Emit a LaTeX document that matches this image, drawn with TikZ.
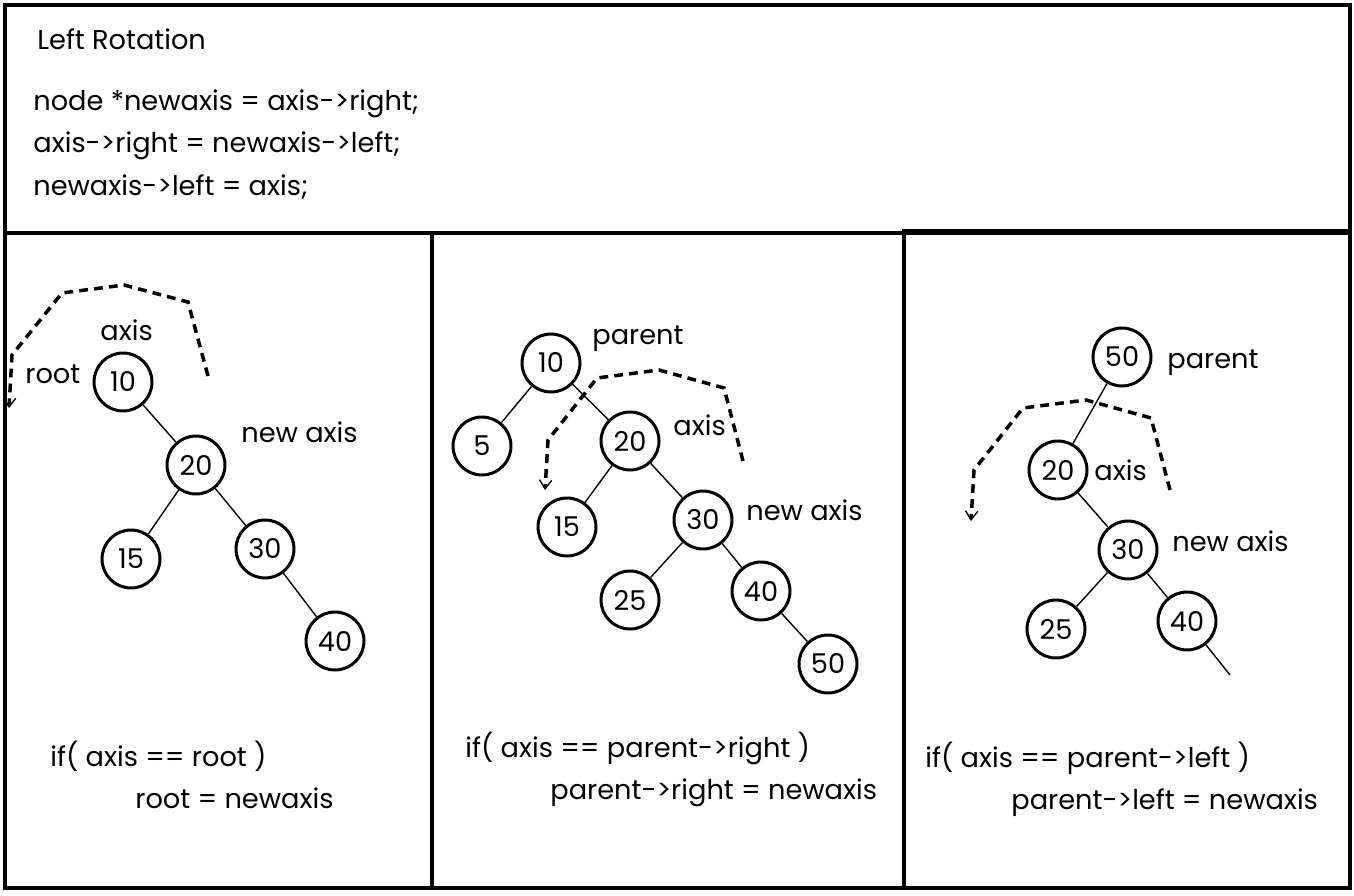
\documentclass[tikz,border=0pt]{standalone}
\usepackage{fontspec}
\setmainfont{Poppins}
\usepackage{tikz}
\usetikzlibrary{positioning}
\usetikzlibrary{arrows.meta}
\tikzset{>=latex}
\tikzset{
  vertex/.style={circle,draw,line width=1.7pt,minimum size=1.16cm,inner sep=0pt},
  link/.style={line width=0.8pt},
  panel/.style={line width=2pt},
  label/.style={anchor=base west,inner sep=0pt},
  move/.style={dashed,line width=2pt,dash pattern=on 5pt off 3.5pt,
    -{Straight Barb[length=5pt,width=7pt,line width=0.8pt]}}
}

\begin{document}
\begin{tikzpicture}[x=0.02cm,y=-0.02cm,font=\fontsize{15.5}{18}\selectfont]
\useasboundingbox (0,0) rectangle (1354,895);

% Frames
\draw[panel] (5,5) rectangle (1350,233);
\draw[panel] (5,233) rectangle (432,888);
\draw[panel] (432,233) rectangle (904,888);
\draw[panel] (904,231) rectangle (1350,888);

% Code
\node[label] (title) at (37,50) {Left Rotation};
\node[label] (code1) at (33,111) {node *newaxis = axis->right;};
\node[label] (code2) at (33,153) {axis->right = newaxis->left;};
\node[label] (code3) at (33,195) {newaxis->left = axis;};

% Case 1: axis is root
\node[vertex] (a10) at (123,382) {10};
\node[vertex] (a20) at (196,465) {20};
\node[vertex] (a15) at (131,559) {15};
\node[vertex] (a30) at (265,549) {30};
\node[vertex] (a40) at (335,641) {40};
\draw[link] (a10) -- (a20);
\draw[link] (a20) -- (a15);
\draw[link] (a20) -- (a30);
\draw[link] (a30) -- (a40);
\node[label] at (100,340) {axis};
\node[label] at (25,383) {root};
\node[label] at (241,442) {new axis};
\draw[move] (208,376) -- (188,302) -- (124,285) -- (62,293) -- (12,355) -- (9,408);
\node[label] at (50,766) {if( axis == root )};
\node[label] at (135,808) {root = newaxis};

% Case 2: axis is right child
\node[vertex] (b10) at (551,363) {10};
\node[vertex] (b5) at (482,446) {5};
\node[vertex] (b20) at (630,441) {20};
\node[vertex] (b15) at (567,527) {15};
\node[vertex] (b30) at (703,520) {30};
\node[vertex] (b25) at (630,600) {25};
\node[vertex] (b40) at (761,591) {40};
\node[vertex] (b50) at (828,664) {50};
\draw[link] (b10) -- (b5);
\draw[link] (b10) -- (b20);
\draw[link] (b20) -- (b15);
\draw[link] (b20) -- (b30);
\draw[link] (b30) -- (b25);
\draw[link] (b30) -- (b40);
\draw[link] (b40) -- (b50);
\node[label] at (592,344) {parent};
\node[label] at (673,435) {axis};
\node[label] at (746,520) {new axis};
\draw[move] (743,461) -- (724,388) -- (659,370) -- (597,378) -- (548,440) -- (545,490);
\node[label] at (465,757) {if( axis == parent->right )};
\node[label] at (550,799) {parent->right = newaxis};

% Case 3: axis is left child
\node[vertex] (c50) at (1122,357) {50};
\node[vertex] (c20) at (1058,470) {20};
\node[vertex] (c30) at (1128,550) {30};
\node[vertex] (c25) at (1056,629) {25};
\node[vertex] (c40) at (1187,621) {40};
\coordinate (cend) at (1230,675);
\draw[link] (c50) -- (c20);
\draw[link] (c20) -- (c30);
\draw[link] (c30) -- (c25);
\draw[link] (c30) -- (c40);
\draw[link] (c40) -- (cend);
\node[label] at (1167,368) {parent};
\node[label] at (1094,480) {axis};
\node[label] at (1172,551) {new axis};
\draw[move] (1170,490) -- (1151,418) -- (1086,400) -- (1023,408) -- (974,470) -- (971,521);
\node[label] at (925,767) {if( axis == parent->left )};
\node[label] at (1011,809) {parent->left = newaxis};

\end{tikzpicture}
\end{document}
